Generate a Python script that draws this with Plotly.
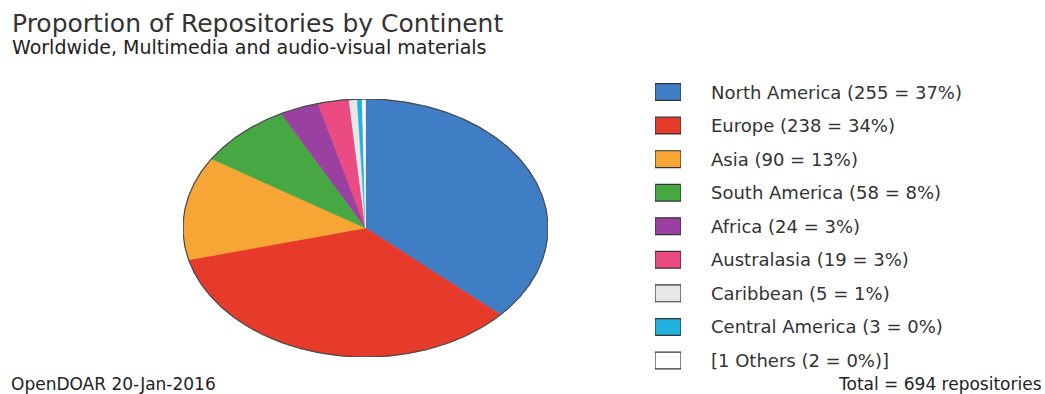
import numpy as np
import plotly.graph_objects as go

# ---- data ----
continents = ["North America", "Europe", "Asia", "South America", "Africa",
              "Australasia", "Caribbean", "Central America", "Others"]
counts = [255, 238, 90, 58, 24, 19, 5, 3, 2]
legend_labels = ["North America (255 = 37%)", "Europe (238 = 34%)", "Asia (90 = 13%)",
                 "South America (58 = 8%)", "Africa (24 = 3%)", "Australasia (19 = 3%)",
                 "Caribbean (5 = 1%)", "Central America (3 = 0%)", "[1 Others (2 = 0%)]"]
colors = ["#3F7EC5", "#E63B2A", "#F7A535", "#47A843", "#9A40A0",
          "#E94B82", "#E6E8E8", "#22B2DE", "#FFFFFF"]
title = "Proportion of Repositories by Continent"
subtitle = "Worldwide, Multimedia and audio-visual materials"
footer_left = "OpenDOAR 20-Jan-2016"
footer_right = "Total = 694 repositories"

W, H = 1045, 394
FONT = "DejaVu Sans"
TXT = "#333333"

fig = go.Figure()

# ---- pie drawn as filled wedges on a unit-range axis (elliptical via domain) ----
total = sum(counts)
cum = 0.0
for name, v, c in zip(continents, counts, colors):
    f0 = cum / total
    f1 = (cum + v) / total
    cum += v
    n = max(3, int((f1 - f0) * 720))
    th = np.linspace(f0, f1, n) * 2 * np.pi
    xs = np.concatenate([[0], np.sin(th), [0]])
    ys = np.concatenate([[0], np.cos(th), [0]])
    fig.add_trace(go.Scatter(x=xs, y=ys, mode="lines", fill="toself",
                             fillcolor=c, line=dict(color=c, width=0.6),
                             hoverinfo="text", text=name, showlegend=False,
                             xaxis="x", yaxis="y"))

# outline
th = np.linspace(0, 2 * np.pi, 721)
fig.add_trace(go.Scatter(x=np.sin(th), y=np.cos(th), mode="lines",
                         line=dict(color="#4a4a4a", width=1.2),
                         hoverinfo="skip", showlegend=False, xaxis="x", yaxis="y"))

# ---- legend swatches as bars on their own axis ----
idx = list(range(len(continents)))
fig.add_trace(go.Bar(x=[1] * len(idx), y=idx, base=0, orientation="h", width=0.5,
                     marker=dict(color=colors, line=dict(color="#333333", width=1.2)),
                     hoverinfo="skip", showlegend=False, xaxis="x2", yaxis="y2"))

annotations = []
for i, lab in enumerate(legend_labels):
    annotations.append(dict(x=709 / W, xref="paper", y=i, yref="y2",
                            text=lab, showarrow=False, xanchor="left", yanchor="middle",
                            font=dict(family=FONT, size=18, color=TXT)))

annotations += [
    dict(x=10 / W, y=1 - 23 / H, xref="paper", yref="paper", text=title, showarrow=False,
         xanchor="left", yanchor="middle", font=dict(family=FONT, size=25, color=TXT)),
    dict(x=10 / W, y=1 - 47 / H, xref="paper", yref="paper", text=subtitle, showarrow=False,
         xanchor="left", yanchor="middle", font=dict(family=FONT, size=19, color="#222222")),
    dict(x=9 / W, y=1 - 384 / H, xref="paper", yref="paper", text=footer_left, showarrow=False,
         xanchor="left", yanchor="middle", font=dict(family=FONT, size=17, color="#222222")),
    dict(x=1044 / W, y=1 - 384 / H, xref="paper", yref="paper", text=footer_right, showarrow=False,
         xanchor="right", yanchor="middle", font=dict(family=FONT, size=17, color="#222222")),
]

hidden = dict(visible=False, showgrid=False, zeroline=False, fixedrange=True)
fig.update_layout(
    width=W, height=H, margin=dict(l=0, r=0, t=0, b=0),
    paper_bgcolor="white", plot_bgcolor="rgba(0,0,0,0)",
    showlegend=False, annotations=annotations,
    xaxis=dict(domain=[183 / W, 548 / W], range=[-1, 1], **hidden),
    yaxis=dict(domain=[1 - 357 / H, 1 - 99 / H], range=[-1, 1], **hidden),
    xaxis2=dict(domain=[655 / W, 681 / W], range=[0, 1], anchor="y2", **hidden),
    yaxis2=dict(domain=[1 - 377.25 / H, 1 - 75.25 / H], range=[8.5, -0.5], anchor="x2", **hidden),
)

fig.write_html("out.html", config={"displayModeBar": False},
               post_script="document.body.style.margin='0';document.body.style.overflow='hidden';")
